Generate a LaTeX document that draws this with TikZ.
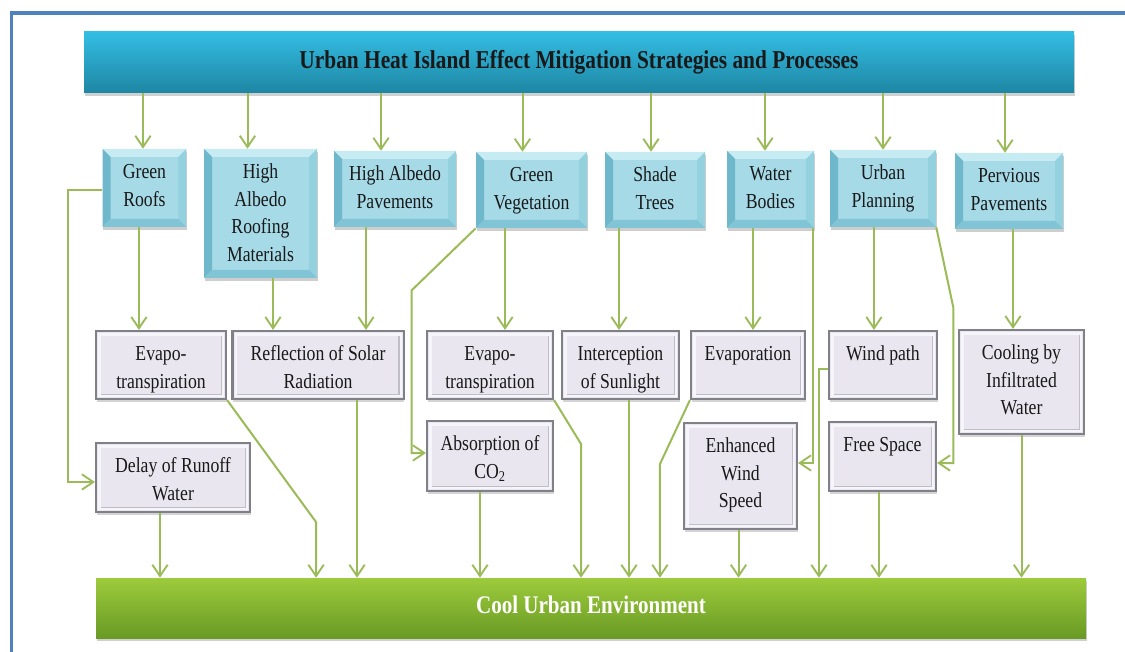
\documentclass[tikz,border=0pt]{standalone}
\usepackage{fontspec}
\setmainfont{Liberation Serif}[FakeStretch=0.83]
\usetikzlibrary{arrows.meta,shadows,calc}
\definecolor{frameblue}{HTML}{4F81BD}
\definecolor{arrgreen}{HTML}{9BBB59}
\definecolor{titletop}{HTML}{33BDE3}
\definecolor{titlebot}{HTML}{1E86A3}
\definecolor{bartop}{HTML}{9DCB3C}
\definecolor{barbot}{HTML}{699A24}
\definecolor{lonface}{HTML}{A6DAE7}
\definecolor{lontop}{HTML}{C6EBF3}
\definecolor{lonleft}{HTML}{6FB8CB}
\definecolor{lonright}{HTML}{94D1DF}
\definecolor{lonbot}{HTML}{80C4D5}
\definecolor{ltwface}{HTML}{E9E6EF}
\definecolor{ltwedge}{HTML}{808088}
\newcommand{\mkbox}[7]{%
  \pgfmathsetmacro{\bw}{(#5-#3)*0.75}%
  \pgfmathsetmacro{\bh}{(#6-#4)*0.75}%
  \node[#1, minimum width=\bw pt, minimum height=\bh pt] (#2) at ({(#3+#5)/2},{(#4+#6)/2})
    {\parbox[c][\bh pt][t]{\bw pt}{\centering\rule{0pt}{22pt}#7\par}};}
\tikzset{
  arr/.style={draw=arrgreen, line width=1.5pt, -{Straight Barb[length=8.5pt,width=11.5pt,line width=1.4pt]}},
  titlebox/.style={rectangle, inner sep=0pt, top color=titletop, bottom color=titlebot, draw=none,
    font=\fontsize{19.3}{22}\selectfont\bfseries, text=black!90,
    drop shadow={shadow xshift=0.5pt, shadow yshift=-2.5pt, opacity=0.3, fill=black!60}},
  barbox/.style={rectangle, inner sep=0pt, top color=bartop, bottom color=barbot, draw=none,
    font=\fontsize{19}{22}\selectfont\bfseries, text=white,
    drop shadow={shadow xshift=0.5pt, shadow yshift=-2.5pt, opacity=0.3, fill=black!60}},
  l1/.style={rectangle, inner sep=0pt, fill=lonface, draw=none,
    font=\fontsize{16}{20.8}\selectfont, text=black!90,
    drop shadow={shadow xshift=0.5pt, shadow yshift=-2.5pt, opacity=0.35, fill=black!55, path picture={}},
    path picture={
      \fill[lontop] (path picture bounding box.north west) -- (path picture bounding box.north east)
        -- ([xshift=-6pt,yshift=-6pt]path picture bounding box.north east)
        -- ([xshift=6pt,yshift=-6pt]path picture bounding box.north west) -- cycle;
      \fill[lonleft] (path picture bounding box.north west) -- (path picture bounding box.south west)
        -- ([xshift=6pt,yshift=6pt]path picture bounding box.south west)
        -- ([xshift=6pt,yshift=-6pt]path picture bounding box.north west) -- cycle;
      \fill[lonright] (path picture bounding box.north east) -- (path picture bounding box.south east)
        -- ([xshift=-6pt,yshift=6pt]path picture bounding box.south east)
        -- ([xshift=-6pt,yshift=-6pt]path picture bounding box.north east) -- cycle;
      \fill[lonbot] (path picture bounding box.south west) -- (path picture bounding box.south east)
        -- ([xshift=-6pt,yshift=6pt]path picture bounding box.south east)
        -- ([xshift=6pt,yshift=6pt]path picture bounding box.south west) -- cycle;
    }},
  l2/.style={rectangle, inner sep=0pt, fill=ltwface, draw=ltwedge, line width=1.6pt,
    font=\fontsize{16}{20.8}\selectfont, text=black!90,
    drop shadow={shadow xshift=0.5pt, shadow yshift=-2.5pt, opacity=0.3, fill=black!55, path picture={}},
    path picture={
      \draw[white!60!ltwface, line width=2pt]
        ([xshift=2.5pt,yshift=-2.5pt]path picture bounding box.north west) rectangle
        ([xshift=-2.5pt,yshift=2.5pt]path picture bounding box.south east);
      \draw[ltwedge!40!ltwface, line width=1.2pt]
        ([xshift=3.5pt,yshift=3.5pt]path picture bounding box.south west) --
        ([xshift=-3.5pt,yshift=3.5pt]path picture bounding box.south east) --
        ([xshift=-3.5pt,yshift=-3.5pt]path picture bounding box.north east);
    }},
}
\begin{document}
\begin{tikzpicture}[x=0.75pt,y=-0.75pt]
\useasboundingbox (0,0) rectangle (1125,652);
\fill[white] (0,0) rectangle (1125,652);
\draw[frameblue, line width=2.4pt] (1125,13) -- (11.5,13) -- (11.5,653);

% title and bottom bar
\node[titlebox, minimum width=742.5pt, minimum height=45.75pt] (title) at (579,62.5)
  {\raisebox{4pt}{Urban Heat Island Effect Mitigation Strategies and Processes}};
\node[barbox, minimum width=742.5pt, minimum height=45pt] (bar) at (591,608)
  {\raisebox{4.5pt}{Cool Urban Environment}};

% strategies
\mkbox{l1}{gr}{102.5}{149}{186.4}{227}{Green\\Roofs}
\mkbox{l1}{harm}{204}{149}{317}{278}{High\\Albedo\\Roofing\\Materials}
\mkbox{l1}{hap}{334}{151}{456}{227}{High Albedo\\Pavements}
\mkbox{l1}{gv}{476}{152}{587}{228}{Green\\Vegetation}
\mkbox{l1}{st}{605}{152}{705}{228}{Shade\\Trees}
\mkbox{l1}{wb}{727}{151}{814}{228}{Water\\Bodies}
\mkbox{l1}{up}{830}{150}{936}{227}{Urban\\Planning}
\mkbox{l1}{pp}{955}{153}{1063}{229}{Pervious\\Pavements}

% processes
\mkbox{l2}{ev1}{96}{331}{226}{399}{Evapo-\\transpiration}
\mkbox{l2}{refl}{232.5}{331}{403.6}{399}{Reflection of Solar\\Radiation}
\mkbox{l2}{ev2}{427}{331}{553}{399}{Evapo-\\transpiration}
\mkbox{l2}{abs}{427}{421}{553}{491}{Absorption of\\CO\textsubscript{2}}
\mkbox{l2}{delay}{96}{443}{250}{512}{Delay of Runoff\\Water}
\mkbox{l2}{ic}{562}{331}{679}{399}{Interception\\of Sunlight}
\mkbox{l2}{evap}{691}{331}{805}{399}{Evaporation}
\mkbox{l2}{ews}{684}{423}{797}{529}{Enhanced\\Wind\\Speed}
\mkbox{l2}{wp}{829}{331}{937}{399}{Wind path}
\mkbox{l2}{fs}{829}{422}{936}{491}{Free Space}
\mkbox{l2}{cool}{959}{330}{1084}{434}{Cooling by\\Infiltrated\\Water}

% title -> strategies
\draw[arr] ($(gr.north |- title.south)+(-1.5,0)$) -- ($(gr.north)+(-1.5,0)$);
\draw[arr] ($(harm.north |- title.south)+(-13,0)$) -- ($(harm.north)+(-13,0)$);
\draw[arr] ($(hap.north |- title.south)+(-14,0)$) -- ($(hap.north)+(-14,0)$);
\draw[arr] ($(gv.north |- title.south)+(-9,0)$) -- ($(gv.north)+(-9,0)$);
\draw[arr] ($(st.north |- title.south)+(-4,0)$) -- ($(st.north)+(-4,0)$);
\draw[arr] ($(wb.north |- title.south)+(-5.5,0)$) -- ($(wb.north)+(-5.5,0)$);
\draw[arr] (up.north |- title.south) -- (up.north);
\draw[arr] ($(pp.north |- title.south)+(-4,0)$) -- ($(pp.north)+(-4,0)$);

% strategies -> processes
\draw[arr] ($(gr.south)+(-5.5,0)$) coordinate (c1) -- (c1 |- ev1.north);
\draw[arr] ($(harm.south)+(12.5,0)$) coordinate (c2) -- (c2 |- refl.north);
\draw[arr] ($(hap.south)+(-29,0)$) coordinate (c3) -- (c3 |- refl.north);
\draw[arr] ($(gv.south)+(-26.5,0)$) coordinate (c4) -- (c4 |- ev2.north);
\draw[arr] ($(st.south)+(-36,0)$) coordinate (c5) -- (c5 |- ic.north);
\draw[arr] ($(wb.south)+(-17.5,0)$) coordinate (c6) -- (c6 |- evap.north);
\draw[arr] ($(up.south)+(-9,0)$) coordinate (c7) -- (c7 |- wp.north);
\draw[arr] ($(pp.south)+(4,0)$) coordinate (c8) -- (c8 |- cool.north);
\draw[arr] ($(gr.west)+(0,2)$) -- ++(-34.5,0) |- ($(delay.west)+(0,4.5)$);
\draw[arr] (gv.south west) -- ++(-64,62) |- ($(abs.west)+(0,-3)$);
\draw[arr] ($(wb.south east)+(-1.5,0)$) |- ($(ews.east)+(0,-13)$);
\draw[arr] (up.south east) -- ++(17,80) |- ($(fs.east)+(0,6.5)$);

% processes -> cool urban environment
\draw[arr] ($(delay.south)+(-13,0)$) coordinate (d1) -- (d1 |- bar.north);
\draw[arr] ($(refl.south)+(39,0)$) coordinate (d2) -- (d2 |- bar.north);
\draw[arr] ($(abs.south)+(-10,0)$) coordinate (d3) -- (d3 |- bar.north);
\draw[arr] ($(ic.south)+(8.5,0)$) coordinate (d4) -- (d4 |- bar.north);
\draw[arr] ($(ews.south)+(-2,0)$) coordinate (d5) -- (d5 |- bar.north);
\draw[arr] ($(fs.south)+(-3.5,0)$) coordinate (d6) -- (d6 |- bar.north);
\draw[arr] (cool.south) -- (cool.south |- bar.north);
\draw[arr] (ev1.south east) -- ++(89,122) coordinate (d7) -- (d7 |- bar.north);
\draw[arr] (ev2.south east) -- ++(27,44) coordinate (d8) -- (d8 |- bar.north);
\draw[arr] (evap.south west) -- ++(-30,64) coordinate (d9) -- (d9 |- bar.north);
\draw[arr] ($(wp.west)+(0,4)$) -| ($(bar.north -| wp.west)+(-9,0)$);
\end{tikzpicture}
\end{document}
